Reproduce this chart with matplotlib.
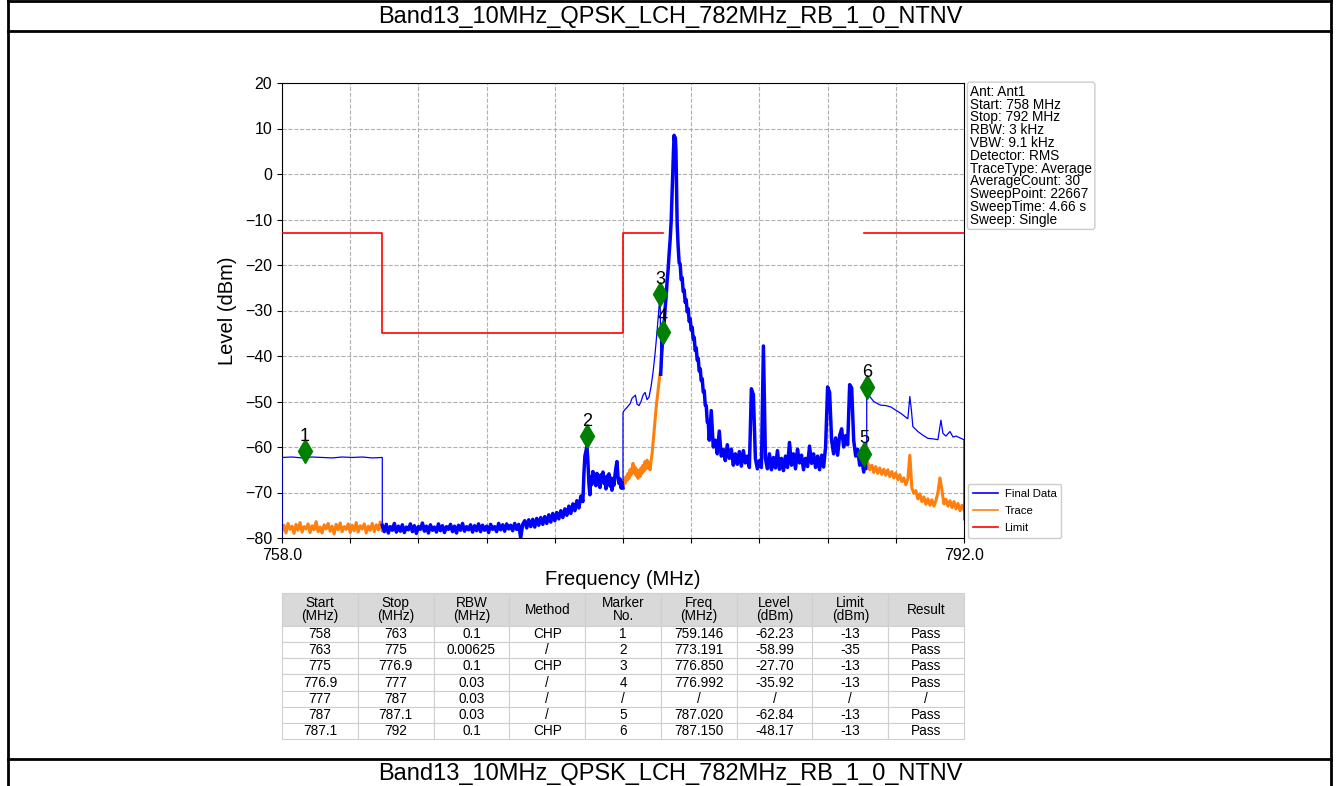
import numpy as np
import matplotlib
matplotlib.use("Agg")
import matplotlib.pyplot as plt
from matplotlib.lines import Line2D

plt.rcParams['font.family'] = ['Liberation Sans', 'DejaVu Sans']

title = "Band13_10MHz_QPSK_LCH_782MHz_RB_1_0_NTNV"

# limit line (MHz / dBm), gap between 777 and 787
limit_freq = [758, 763, 763, 775, 775, 777, np.nan, 787, 792]
limit_level = [-13, -13, -35, -35, -13, -13, np.nan, -13, -13]

# markers
marker_no = ["1", "2", "3", "4", "5", "6"]
marker_freq = [759.146, 773.191, 776.850, 776.992, 787.020, 787.150]
marker_level = [-62.23, -58.99, -27.70, -35.92, -62.84, -48.17]

info_lines = ["Ant: Ant1", "Start: 758 MHz", "Stop: 792 MHz", "RBW: 3 kHz",
              "VBW: 9.1 kHz", "Detector: RMS", "TraceType: Average",
              "AverageCount: 30", "SweepPoint: 22667", "SweepTime: 4.66 s",
              "Sweep: Single"]

# ---- trace readings ----
# 758-763 thin final data (channel power)
chp1_freq = [758.0, 758.0, 758.5, 759.0, 759.5, 760.0, 760.5, 761.0, 761.5, 762.0, 762.5, 763.0, 763.0]
chp1_level = [-79.5, -62.3, -62.2, -62.4, -62.2, -62.3, -62.4, -62.2, -62.3, -62.2, -62.4, -62.3, -77.8]

# 758-763 raw trace (orange), 0.1 MHz steps
raw1_level = [-78.5, -77.2, -78.9, -76.8, -78.1, -77.4, -79.0, -77.0, -78.3, -76.6,
              -78.7, -77.5, -78.0, -76.9, -78.8, -77.3, -78.2, -76.4, -78.6, -77.6,
              -78.9, -77.1, -78.0, -76.8, -78.5, -77.4, -79.1, -77.0, -78.2, -76.7,
              -78.6, -77.5, -78.1, -76.9, -78.8, -77.2, -78.4, -76.6, -78.7, -77.3,
              -78.0, -76.9, -78.9, -77.4, -78.3, -76.8, -78.6, -77.1, -78.2, -76.5, -78.4]

# 763-770 noise floor, 0.1 MHz steps
floor1_level = [-77.2, -78.6, -77.0, -78.9, -77.5, -78.3, -76.8, -78.7, -77.4, -78.5,
                -77.1, -78.8, -77.6, -78.2, -76.9, -78.6, -77.3, -79.0, -77.5, -78.1,
                -76.7, -78.5, -77.4, -78.9, -77.1, -78.3, -77.6, -78.7, -76.9, -78.4,
                -77.3, -78.8, -77.5, -78.1, -77.0, -78.6, -77.4, -78.9, -77.2, -78.3,
                -76.8, -78.5, -77.5, -78.2, -77.1, -78.7, -77.3, -78.4, -76.9, -78.6,
                -77.2, -78.3, -77.4, -78.8, -77.0, -78.1, -77.5, -78.6, -76.8, -78.2,
                -77.1, -78.5, -76.9, -78.0, -77.2, -78.4, -76.8, -78.1, -77.0, -80.0,
                -77.0]

# 770.1-773.0 rising skirt
floor2_level = [-76.2, -77.8, -76.0, -77.5, -75.9, -77.6, -75.7, -77.2, -75.5, -77.0,
                -75.3, -76.8, -74.9, -76.5, -74.6, -76.2, -74.4, -75.8, -74.0, -75.5,
                -73.6, -75.0, -73.0, -74.6, -72.5, -74.0, -71.8, -73.4, -70.8, -72.0]

# spur near 773.2
spur_freq = [773.05, 773.1, 773.15, 773.2, 773.25, 773.3, 773.35]
spur_level = [-66.0, -62.0, -61.0, -59.8, -63.0, -68.0, -70.5]

# 773.4-775.0, 0.05 MHz steps
floor3_level = [-66.5, -68.2, -65.4, -67.8, -66.0, -68.5, -65.8, -67.4, -66.3, -68.9,
                -66.1, -67.5, -65.5, -68.0, -66.7, -69.2, -66.4, -67.9, -65.9, -68.6,
                -66.8, -69.5, -67.0, -68.4, -66.2, -64.5, -63.2, -66.5, -68.0, -67.0,
                -69.0, -67.8, -69.0]

# 775-776.85 raw trace (orange), 0.05 MHz steps
raw2_level = [-68.7, -67.2, -68.0, -66.5, -67.4, -65.8, -66.9, -65.0, -66.2, -64.8,
              -63.6, -65.7, -64.4, -66.3, -65.0, -66.9, -65.2, -66.5, -64.6, -65.8,
              -64.0, -65.3, -63.2, -64.8, -62.9, -64.6, -63.5, -65.0, -63.0, -61.5,
              -59.0, -56.5, -54.0, -51.5, -49.5, -47.5, -45.5, -43.8]

# 775-776.88 thin final data (channel power)
chp2_freq = [775.0, 775.0, 775.05, 775.2, 775.35, 775.45, 775.55, 775.62, 775.7, 775.8,
             775.9, 776.0, 776.1, 776.2, 776.3, 776.4, 776.5, 776.6, 776.7, 776.8,
             776.85, 776.88]
chp2_level = [-69.0, -52.5, -52.0, -51.3, -50.5, -49.3, -48.9, -48.6, -50.6, -50.9,
              -50.0, -48.6, -48.0, -49.6, -49.0, -46.7, -43.5, -39.4, -34.5, -29.0,
              -26.2, -40.0]

# carrier
carrier_freq = [776.88, 776.92, 776.96, 777.0, 777.05, 777.1, 777.15, 777.2, 777.25, 777.3,
                777.35, 777.4, 777.44, 777.48, 777.52, 777.55, 777.58, 777.61, 777.64, 777.67,
                777.7]
carrier_level = [-44.0, -40.0, -37.5, -35.0, -33.0, -29.5, -27.0, -23.5, -21.0, -17.5,
                 -14.5, -10.5, -5.0, 0.5, 5.5, 8.5, 7.0, 8.0, 5.0, -3.0,
                 -11.0]

# 777.75-779.3 upper skirt, 0.05 MHz steps
skirt_level = [-16.0, -19.5, -19.8, -23.2, -22.8, -25.8, -25.5, -28.2, -27.6, -30.3,
               -29.6, -32.4, -31.8, -34.3, -33.7, -36.3, -35.9, -38.8, -38.2, -40.9,
               -40.5, -43.3, -42.8, -45.4, -45.0, -47.9, -47.6, -50.8, -50.9, -54.5,
               -54.6, -58.5]

# 779.4-787.1 noise with spurs, 0.1 MHz steps
floor4_level = [-52.0, -60.0, -58.5, -61.5, -56.5, -62.0, -60.5, -63.0, -59.5, -62.5,
                -60.5, -64.0, -61.5, -63.8, -61.0, -64.2, -60.8, -63.5, -62.0, -64.5,
                -47.2, -48.5, -62.5, -64.8, -63.0, -64.5, -37.8, -62.5, -64.8, -61.5,
                -65.0, -62.3, -64.6, -60.8, -64.9, -62.5, -65.2, -62.0, -64.5, -59.0,
                -64.0, -61.5, -64.8, -60.5, -63.5, -61.8, -65.0, -62.5, -64.3, -59.8,
                -63.6, -61.5, -64.5, -62.0, -65.0, -61.8, -64.4, -60.0, -46.8, -48.0,
                -58.5, -61.5, -58.0, -61.8, -57.5, -56.0, -60.0, -57.5, -59.5, -46.3,
                -47.0, -58.5, -62.0, -60.5, -64.0, -62.5, -65.5, -63.0]

# 787.15-792 thin final data (channel power)
chp3_freq = [787.15, 787.15, 787.3, 787.5, 787.7, 787.85, 788.1, 788.35, 788.6, 788.85,
             789.05, 789.2, 789.3, 789.38, 789.45, 789.7, 789.95, 790.2, 790.45, 790.7,
             790.85, 790.95, 791.1, 791.3, 791.45, 791.6, 791.85, 792.0, 792.0]
chp3_level = [-65.0, -47.5, -48.9, -50.0, -50.5, -50.8, -50.9, -51.2, -51.9, -52.6,
              -53.3, -53.8, -48.9, -52.0, -55.5, -56.6, -57.4, -58.1, -58.2, -58.4,
              -54.1, -57.0, -57.6, -56.6, -57.8, -57.6, -58.1, -58.4, -76.0]

# 787.1-792 raw trace (orange), 0.1 MHz steps
raw3_level = [-64.5, -63.4, -65.0, -64.0, -65.6, -64.3, -65.8, -64.6, -66.0,
              -64.9, -66.2, -65.0, -66.5, -65.4, -66.8, -65.7, -67.2, -66.1, -67.6,
              -66.8, -68.3, -67.0, -61.8, -69.0, -70.2, -69.6, -71.4, -70.3, -72.0,
              -71.0, -72.6, -71.4, -72.8, -71.6, -73.0, -71.8, -70.0, -66.8, -69.5,
              -72.5, -71.5, -73.0, -71.8, -73.3, -72.0, -73.6, -72.4, -74.0, -72.8, -73.8]

# table
col_labels = ["Start\n(MHz)", "Stop\n(MHz)", "RBW\n(MHz)", "Method", "Marker\nNo.",
              "Freq\n(MHz)", "Level\n(dBm)", "Limit\n(dBm)", "Result"]
table_rows = [
    ["758", "763", "0.1", "CHP", "1", "759.146", "-62.23", "-13", "Pass"],
    ["763", "775", "0.00625", "/", "2", "773.191", "-58.99", "-35", "Pass"],
    ["775", "776.9", "0.1", "CHP", "3", "776.850", "-27.70", "-13", "Pass"],
    ["776.9", "777", "0.03", "/", "4", "776.992", "-35.92", "-13", "Pass"],
    ["777", "787", "0.03", "/", "/", "/", "/", "/", "/"],
    ["787", "787.1", "0.03", "/", "5", "787.020", "-62.84", "-13", "Pass"],
    ["787.1", "792", "0.1", "CHP", "6", "787.150", "-48.17", "-13", "Pass"],
]

# ---- assemble series ----
f_raw1 = np.linspace(758.0, 763.0, len(raw1_level))
f_raw2 = np.linspace(775.0, 776.85, len(raw2_level))
f_raw3 = np.linspace(787.1, 792.0, len(raw3_level))
f_floor1 = np.linspace(763.0, 770.0, len(floor1_level))
f_floor2 = np.linspace(770.1, 773.0, len(floor2_level))
f_floor3 = np.linspace(773.4, 775.0, len(floor3_level))
f_skirt = np.linspace(777.75, 779.3, len(skirt_level))
f_floor4 = np.linspace(779.4, 787.1, len(floor4_level))

shared_b_f = np.concatenate([f_floor1, f_floor2, spur_freq, f_floor3])
shared_b_l = np.concatenate([floor1_level, floor2_level, spur_level, floor3_level])
shared_d_f = np.concatenate([carrier_freq, f_skirt, f_floor4])
shared_d_l = np.concatenate([carrier_level, skirt_level, floor4_level])

final_f = np.concatenate([chp1_freq, shared_b_f, chp2_freq, shared_d_f, chp3_freq])
final_l = np.concatenate([chp1_level, shared_b_l, chp2_level, shared_d_l, chp3_level])

trace_f = np.concatenate([f_raw1, shared_b_f, f_raw2, shared_d_f, f_raw3])
trace_l = np.concatenate([raw1_level, shared_b_l, raw2_level, shared_d_l, raw3_level])

# ---- figure ----
W, H = 1340, 786
fig = plt.figure(figsize=(W / 100, H / 100), dpi=100)

ax = fig.add_axes([282 / W, 1 - 538 / H, 682 / W, 455 / H])
orange = '#ff7f0e'
ax.plot(trace_f, trace_l, color=orange, lw=0.9, label='Trace', zorder=2)
# raw sweep is noisy: draw the visible parts heavier
for f, l in [(f_raw1, raw1_level), (f_raw2, raw2_level), (f_raw3, raw3_level)]:
    ax.plot(f, l, color=orange, lw=2.2, zorder=2)
ax.plot(final_f, final_l, color='blue', lw=0.9, label='Final Data', zorder=3)
for f, l in [(shared_b_f, shared_b_l), (shared_d_f, shared_d_l)]:
    ax.plot(f, l, color='blue', lw=2.5, zorder=3)
ax.plot(limit_freq, limit_level, color='red', lw=1.2, label='Limit', zorder=4)

for no, mf, ml in zip(marker_no, marker_freq, marker_level):
    ax.plot(mf, ml + 1.3, marker='d', color='green', ms=12, zorder=5)
    ax.text(mf, ml + 4.6, no, ha='center', va='center', fontsize=13, zorder=6)

ax.set_xlim(758, 792)
ax.set_ylim(-80, 20)
xt = np.linspace(758, 792, 11)
ax.set_xticks(xt)
ax.set_xticklabels(["758.0"] + [""] * 9 + ["792.0"])
ax.set_yticks(np.arange(-80, 21, 10))
ax.tick_params(labelsize=11.5)
ax.grid(True, linestyle='--', color='#b0b0b0', lw=0.8)
ax.set_axisbelow(True)
ax.set_xlabel("Frequency (MHz)", fontsize=14.5, labelpad=5)
ax.set_ylabel("Level (dBm)", fontsize=14.5, labelpad=6)

handles, labels = ax.get_legend_handles_labels()
order = [1, 0, 2]
leg = ax.legend([handles[i] for i in order], [labels[i] for i in order],
                loc='lower left', bbox_to_anchor=(1.006, 0.0), borderaxespad=0,
                fontsize=8.2, handlelength=2.2, handletextpad=0.6, labelspacing=0.65,
                framealpha=1, edgecolor='#cccccc')
for line in leg.get_lines():
    line.set_linewidth(1.2)

ax.text(1.009, 0.996, "\n".join(info_lines), transform=ax.transAxes, ha='left', va='top',
        fontsize=9.8, linespacing=0.89,
        bbox=dict(boxstyle='round,pad=0.2', facecolor='white', edgecolor='#cccccc'))

# table
tab_ax = fig.add_axes([282 / W, 1 - 739 / H, 682 / W, 146 / H])
tab_ax.axis('off')
tbl = tab_ax.table(cellText=table_rows, colLabels=col_labels, cellLoc='center',
                   bbox=[0, 0, 1, 1])
tbl.auto_set_font_size(False)
tbl.set_fontsize(9.8)
for (r, c), cell in tbl.get_celld().items():
    cell.set_edgecolor('#cfcfcf')
    cell.set_linewidth(0.8)
    if r == 0:
        cell.set_facecolor('#d9d9d9')
        cell.set_height(cell.get_height() * 2.05)
        cell.get_text().set_linespacing(0.95)

# page frame and titles
def hline(y, x0=8, x1=1331):
    fig.add_artist(Line2D([x0 / W, x1 / W], [1 - y / H, 1 - y / H], color='black', lw=2))

def vline(x):
    fig.add_artist(Line2D([x / W, x / W], [0, 1], color='black', lw=2))

hline(1)
hline(31)
hline(759)
vline(8)
vline(1331)
fig.text(0.5, 1 - 17 / H, title, ha='center', va='center', fontsize=17)
fig.text(0.5, 1 - 774 / H, title, ha='center', va='center', fontsize=17)

fig.savefig("out.png", dpi=100)
